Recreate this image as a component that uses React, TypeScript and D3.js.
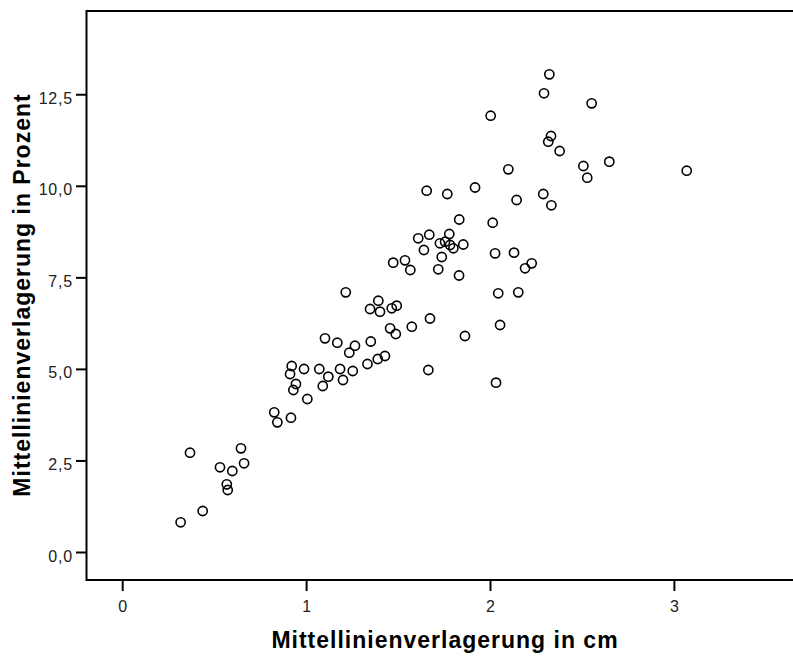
import React from "react";
import * as d3 from "d3";

const xValues = [
  0.315, 0.366, 0.435, 0.529, 0.596, 0.566, 0.571, 0.643, 0.66, 0.824, 0.841, 0.915,
  0.919, 0.91, 0.986, 0.942, 0.928, 1.004, 1.069, 1.118, 1.088, 1.182, 1.251, 1.198,
  1.213, 1.39, 1.345, 1.399, 1.463, 1.49, 1.454, 1.485, 1.572, 1.671, 1.662, 1.1,
  1.167, 1.263, 1.232, 1.349, 1.426, 1.387, 1.331, 1.653, 1.765, 1.916, 2.097, 2.526,
  2.142, 2.287, 2.331, 1.83, 2.012, 1.607, 1.667, 1.776, 1.725, 1.753, 1.78, 1.798,
  1.852, 1.638, 1.735, 1.716, 1.829, 1.471, 1.535, 1.564, 2.025, 2.128, 2.188, 2.224,
  2.042, 2.151, 2.052, 1.861, 2.03, 2.32, 2.291, 2.55, 2.001, 2.329, 2.314, 2.376,
  2.505, 2.646, 3.067,
];

const yValues = [
  0.825, 2.725, 1.133, 2.327, 2.226, 1.862, 1.707, 2.845, 2.436, 3.828, 3.555, 3.681,
  5.093, 4.874, 5.011, 4.601, 4.437, 4.192, 5.011, 4.801, 4.547, 5.011, 4.956, 4.711,
  7.105, 6.876, 6.649, 6.576, 6.669, 6.74, 6.122, 5.967, 6.166, 6.39, 4.984, 5.849,
  5.729, 5.647, 5.456, 5.762, 5.366, 5.284, 5.148, 9.88, 9.79, 9.967, 10.464, 10.235,
  9.626, 9.79, 9.481, 9.093, 9.006, 8.58, 8.678, 8.697, 8.444, 8.487, 8.397, 8.307,
  8.411, 8.261, 8.069, 7.734, 7.564, 7.914, 7.979, 7.714, 8.17, 8.187, 7.761, 7.897,
  7.078, 7.105, 6.212, 5.912, 4.637, 13.058, 12.54, 12.266, 11.928, 11.374, 11.218, 10.964,
  10.554, 10.672, 10.426,
];

const xTicks = [0, 1, 2, 3];
const yTicks = [0, 2.5, 5, 7.5, 10, 12.5];
const xTickLabels = ["0", "1", "2", "3"];
const yTickLabels = ["0,0", "2,5", "5,0", "7,5", "10,0", "12,5"];
const xTitle = "Mittellinienverlagerung in cm";
const yTitle = "Mittellinienverlagerung in Prozent";

const W = 793;
const H = 657;
const frameLeft = 86.5;
const frameTop = 11;
const frameBottom = 580;

export default function App() {
  const x = d3.scaleLinear().domain([0, 3]).range([122.7, 674.4]);
  const y = d3.scaleLinear().domain([0, 12.5]).range([552.5, 94.75]);
  const font = "'Liberation Sans', Arial, sans-serif";
  const pts = xValues.map((xv, i) => [xv, yValues[i]]);

  return (
    <svg
      width={W}
      height={H}
      style={{ position: "absolute", left: 0, top: 0, background: "#fff" }}
    >
      <rect x={0} y={0} width={W} height={H} fill="#fff" />
      {/* frame */}
      <path
        d={`M${W + 5},${frameTop}H${frameLeft}V${frameBottom}H${W + 5}`}
        fill="none"
        stroke="#000"
        strokeWidth={2}
      />
      {/* x ticks */}
      {xTicks.map((t, i) => (
        <g key={"xt" + i}>
          <line x1={x(t)} x2={x(t)} y1={frameBottom} y2={591} stroke="#000" strokeWidth={2} />
          <text
            x={x(t)}
            y={612}
            textAnchor="middle"
            fontFamily={font}
            fontSize={16}
            fill="#222"
          >
            {xTickLabels[i]}
          </text>
        </g>
      ))}
      {/* y ticks */}
      {yTicks.map((t, i) => (
        <g key={"yt" + i}>
          <line x1={76} x2={frameLeft} y1={y(t)} y2={y(t)} stroke="#000" strokeWidth={2} />
          <text
            x={73}
            y={y(t) + 9}
            textAnchor="end"
            fontFamily={font}
            fontSize={16}
            letterSpacing={0.8}
            fill="#222"
          >
            {yTickLabels[i]}
          </text>
        </g>
      ))}
      {/* points */}
      {pts.map((p, i) => (
        <circle
          key={"p" + i}
          cx={x(p[0])}
          cy={y(p[1])}
          r={4.6}
          fill="none"
          stroke="#000"
          strokeWidth={1.6}
        />
      ))}
      {/* titles */}
      <text
        x={445}
        y={648}
        textAnchor="middle"
        fontFamily={font}
        fontWeight="bold"
        fontSize={23}
        letterSpacing={1}
        fill="#000"
      >
        {xTitle}
      </text>
      <text
        transform={`translate(30,295) rotate(-90)`}
        textAnchor="middle"
        fontFamily={font}
        fontWeight="bold"
        fontSize={23}
        letterSpacing={1}
        fill="#000"
      >
        {yTitle}
      </text>
    </svg>
  );
}
